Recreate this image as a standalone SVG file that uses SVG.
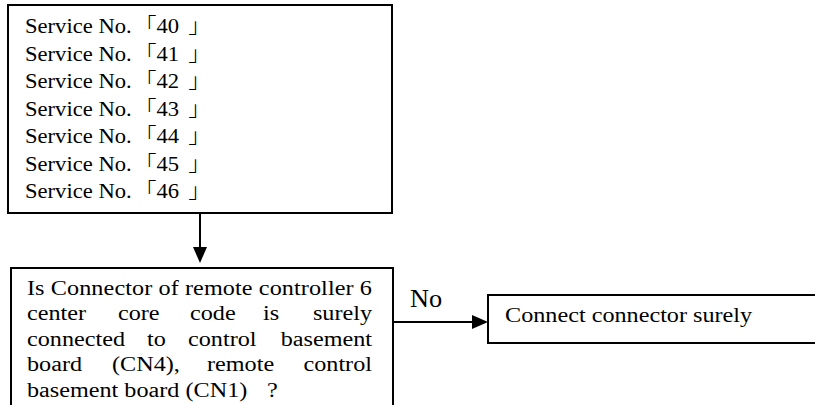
<svg xmlns="http://www.w3.org/2000/svg" width="815" height="405" viewBox="0 0 815 405">
<style>
.box{fill:#fff;stroke:#000;stroke-width:2}
.t{font-family:"Liberation Serif","Noto Sans CJK JP",serif;font-size:20px;fill:#000}
.br{font-weight:300}
.no{font-family:"Liberation Serif",serif;font-size:25px;fill:#000}
.ln{stroke:#000;stroke-width:2;fill:none}
</style>
<defs>
<marker id="ah" viewBox="0 0 16 14" refX="12" refY="7" markerWidth="16" markerHeight="14" markerUnits="userSpaceOnUse" orient="auto">
<path d="M0,0 L16,7 L0,14 z" fill="#000"/>
</marker>
</defs>
<rect width="815" height="405" fill="#fff"/>
<g id="node-services">
<rect class="box" x="8" y="5" width="384" height="208"/>
<text class="t" transform="translate(25,33) scale(1.13,1)">Service No.<tspan class="br" dx="2">「</tspan>40 <tspan class="br" dx="3">」</tspan></text>
<text class="t" transform="translate(25,60.5) scale(1.13,1)">Service No.<tspan class="br" dx="2">「</tspan>41 <tspan class="br" dx="3">」</tspan></text>
<text class="t" transform="translate(25,88) scale(1.13,1)">Service No.<tspan class="br" dx="2">「</tspan>42 <tspan class="br" dx="3">」</tspan></text>
<text class="t" transform="translate(25,115.5) scale(1.13,1)">Service No.<tspan class="br" dx="2">「</tspan>43 <tspan class="br" dx="3">」</tspan></text>
<text class="t" transform="translate(25,143) scale(1.13,1)">Service No.<tspan class="br" dx="2">「</tspan>44 <tspan class="br" dx="3">」</tspan></text>
<text class="t" transform="translate(25,170.5) scale(1.13,1)">Service No.<tspan class="br" dx="2">「</tspan>45 <tspan class="br" dx="3">」</tspan></text>
<text class="t" transform="translate(25,198) scale(1.13,1)">Service No.<tspan class="br" dx="2">「</tspan>46 <tspan class="br" dx="3">」</tspan></text>
</g>
<g id="node-question">
<rect class="box" x="11" y="268" width="382" height="150"/>
<text class="t" transform="translate(0,295) scale(1.21,1)" x="22.31" textLength="285.1" lengthAdjust="spacing">Is Connector of remote controller 6</text>
<text class="t" transform="translate(0,320) scale(1.21,1)"><tspan x="22.31">center </tspan><tspan x="97.52">core </tspan><tspan x="157.02">code </tspan><tspan x="217.36">is </tspan><tspan x="307.44" text-anchor="end">surely</tspan></text>
<text class="t" transform="translate(0,346) scale(1.21,1)"><tspan x="22.31">connected </tspan><tspan x="121.49">to </tspan><tspan x="155.37">control </tspan><tspan x="307.44" text-anchor="end">basement</tspan></text>
<text class="t" transform="translate(0,371) scale(1.21,1)"><tspan x="22.31">board </tspan><tspan x="92.56">(CN4), </tspan><tspan x="171.07">remote </tspan><tspan x="307.44" text-anchor="end">control</tspan></text>
<text class="t" transform="translate(0,397) scale(1.21,1)"><tspan x="22.31">basement board (CN1) </tspan><tspan x="220.66">?</tspan></text>
</g>
<g id="node-connect">
<rect class="box" x="488" y="295" width="340" height="48"/>
<text class="t" transform="translate(505,322) scale(1.21,1)">Connect connector surely</text>
</g>
<g id="connectors">
<line class="ln" x1="200" y1="213" x2="200" y2="259" marker-end="url(#ah)"/>
<line class="ln" x1="393" y1="322" x2="484" y2="322" marker-end="url(#ah)"/>
<text class="no" transform="translate(410,307) scale(1.05,1)">No</text>
</g>
</svg>
